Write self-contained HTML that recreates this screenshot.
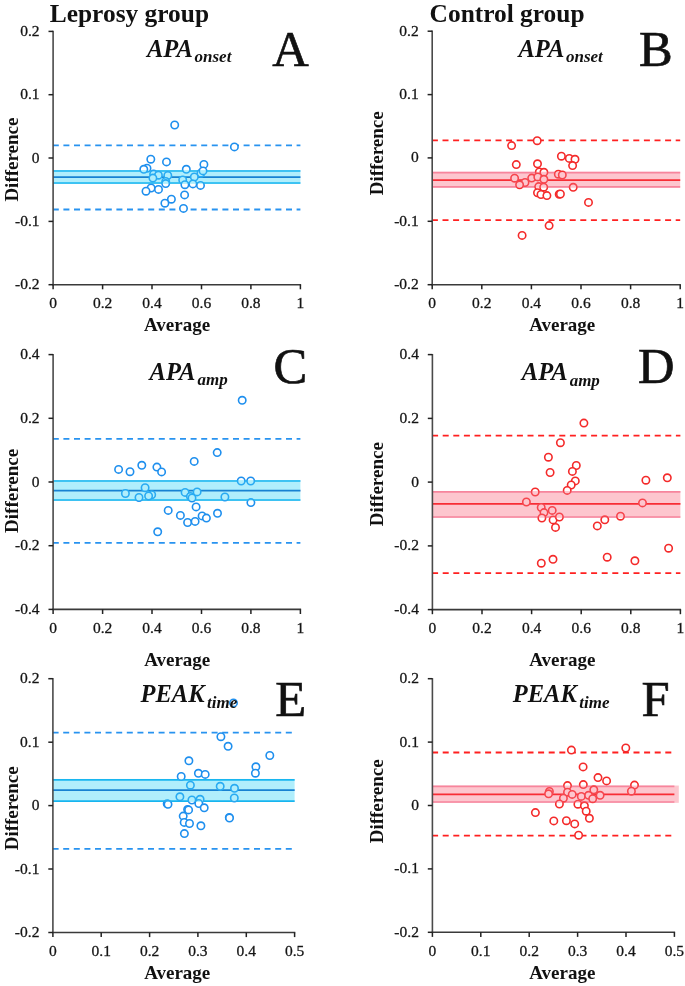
<!DOCTYPE html>
<html><head><meta charset="utf-8"><style>
html,body{margin:0;padding:0;background:#fff;}
svg{display:block;filter:blur(0.35px);}
text{font-family:"Liberation Serif",serif;fill:#111;}
.t{font-size:15.5px;fill:#151515;stroke:#151515;stroke-width:0.3px;}
.h{font-size:25.4px;font-weight:bold;}
.b{font-size:19px;font-weight:bold;}
.s{font-size:24.5px;font-weight:bold;font-style:italic;}
.ss{font-size:17px;}
.L{font-size:50.5px;stroke:#111;stroke-width:0.7px;}
</style></head><body>
<svg width="685" height="986" viewBox="0 0 685 986">
<defs></defs>
<rect width="685" height="986" fill="#fff"/>
<line x1="53.1" y1="171.0" x2="300.4" y2="171.0" stroke="rgb(2,162,235)" stroke-width="1.7"/>
<line x1="53.1" y1="183.0" x2="300.4" y2="183.0" stroke="rgb(2,162,235)" stroke-width="1.7"/>
<line x1="53.1" y1="177.1" x2="300.4" y2="177.1" stroke="rgb(0,75,185)" stroke-width="1.7"/>
<line x1="53.1" y1="145.4" x2="300.4" y2="145.4" stroke="#2893f0" stroke-width="1.8" stroke-dasharray="6.0 4.6" stroke-dashoffset="0.3"/>
<line x1="53.1" y1="209.5" x2="300.4" y2="209.5" stroke="#2893f0" stroke-width="1.8" stroke-dasharray="6.0 4.6" stroke-dashoffset="0.3"/>
<circle cx="174.7" cy="125.0" r="3.7" fill="#fff" stroke="#1e8fee" stroke-width="1.6"/>
<circle cx="234.4" cy="146.9" r="3.7" fill="#fff" stroke="#1e8fee" stroke-width="1.6"/>
<circle cx="150.8" cy="159.2" r="3.7" fill="#fff" stroke="#1e8fee" stroke-width="1.6"/>
<circle cx="166.5" cy="161.9" r="3.7" fill="#fff" stroke="#1e8fee" stroke-width="1.6"/>
<circle cx="147.0" cy="168.2" r="3.7" fill="#fff" stroke="#1e8fee" stroke-width="1.6"/>
<circle cx="143.8" cy="169.3" r="3.7" fill="#fff" stroke="#1e8fee" stroke-width="1.6"/>
<circle cx="153.6" cy="174.1" r="3.7" fill="#fff" stroke="#1e8fee" stroke-width="1.6"/>
<circle cx="158.4" cy="175.2" r="3.7" fill="#fff" stroke="#1e8fee" stroke-width="1.6"/>
<circle cx="152.9" cy="178.1" r="3.7" fill="#fff" stroke="#1e8fee" stroke-width="1.6"/>
<circle cx="167.8" cy="175.5" r="3.7" fill="#fff" stroke="#1e8fee" stroke-width="1.6"/>
<circle cx="165.7" cy="181.4" r="3.7" fill="#fff" stroke="#1e8fee" stroke-width="1.6"/>
<circle cx="165.7" cy="183.6" r="3.7" fill="#fff" stroke="#1e8fee" stroke-width="1.6"/>
<circle cx="151.1" cy="188" r="3.7" fill="#fff" stroke="#1e8fee" stroke-width="1.6"/>
<circle cx="146" cy="191.2" r="3.7" fill="#fff" stroke="#1e8fee" stroke-width="1.6"/>
<circle cx="158.5" cy="189.4" r="3.7" fill="#fff" stroke="#1e8fee" stroke-width="1.6"/>
<circle cx="203.9" cy="164.4" r="3.7" fill="#fff" stroke="#1e8fee" stroke-width="1.6"/>
<circle cx="186.3" cy="169.3" r="3.7" fill="#fff" stroke="#1e8fee" stroke-width="1.6"/>
<circle cx="200.9" cy="173.2" r="3.7" fill="#fff" stroke="#1e8fee" stroke-width="1.6"/>
<circle cx="203.0" cy="170.9" r="3.7" fill="#fff" stroke="#1e8fee" stroke-width="1.6"/>
<circle cx="194.3" cy="177" r="3.7" fill="#fff" stroke="#1e8fee" stroke-width="1.6"/>
<circle cx="182.7" cy="179.9" r="3.7" fill="#fff" stroke="#1e8fee" stroke-width="1.6"/>
<circle cx="184.9" cy="184.7" r="3.7" fill="#fff" stroke="#1e8fee" stroke-width="1.6"/>
<circle cx="192.9" cy="183.9" r="3.7" fill="#fff" stroke="#1e8fee" stroke-width="1.6"/>
<circle cx="200.5" cy="185.4" r="3.7" fill="#fff" stroke="#1e8fee" stroke-width="1.6"/>
<circle cx="184.6" cy="194.9" r="3.7" fill="#fff" stroke="#1e8fee" stroke-width="1.6"/>
<circle cx="171.4" cy="199.2" r="3.7" fill="#fff" stroke="#1e8fee" stroke-width="1.6"/>
<circle cx="164.9" cy="203.2" r="3.7" fill="#fff" stroke="#1e8fee" stroke-width="1.6"/>
<circle cx="183.5" cy="208.4" r="3.7" fill="#fff" stroke="#1e8fee" stroke-width="1.6"/>
<rect x="53.1" y="170.15" width="247.3" height="13.70" fill="rgb(57,212,247)" fill-opacity="0.4"/>
<line x1="53.1" y1="30.8" x2="53.1" y2="285.3" stroke="#4a4a4a" stroke-width="1.6"/>
<line x1="52.5" y1="284.7" x2="301.1" y2="284.7" stroke="#3a3a3a" stroke-width="1.6"/>
<line x1="48.5" y1="31.4" x2="53.1" y2="31.4" stroke="#222" stroke-width="1.5"/>
<text x="39.6" y="35.9" text-anchor="end" class="t">0.2</text>
<line x1="48.5" y1="94.7" x2="53.1" y2="94.7" stroke="#222" stroke-width="1.5"/>
<text x="39.6" y="99.2" text-anchor="end" class="t">0.1</text>
<line x1="48.5" y1="158.0" x2="53.1" y2="158.0" stroke="#222" stroke-width="1.5"/>
<text x="39.6" y="162.5" text-anchor="end" class="t">0</text>
<line x1="48.5" y1="221.4" x2="53.1" y2="221.4" stroke="#222" stroke-width="1.5"/>
<text x="39.6" y="225.9" text-anchor="end" class="t">-0.1</text>
<line x1="48.5" y1="284.7" x2="53.1" y2="284.7" stroke="#222" stroke-width="1.5"/>
<text x="39.6" y="289.2" text-anchor="end" class="t">-0.2</text>
<line x1="53.1" y1="284.7" x2="53.1" y2="289.3" stroke="#222" stroke-width="1.5"/>
<text x="53.1" y="308.4" text-anchor="middle" class="t">0</text>
<line x1="102.6" y1="284.7" x2="102.6" y2="289.3" stroke="#222" stroke-width="1.5"/>
<text x="102.6" y="308.4" text-anchor="middle" class="t">0.2</text>
<line x1="152.0" y1="284.7" x2="152.0" y2="289.3" stroke="#222" stroke-width="1.5"/>
<text x="152.0" y="308.4" text-anchor="middle" class="t">0.4</text>
<line x1="201.5" y1="284.7" x2="201.5" y2="289.3" stroke="#222" stroke-width="1.5"/>
<text x="201.5" y="308.4" text-anchor="middle" class="t">0.6</text>
<line x1="250.9" y1="284.7" x2="250.9" y2="289.3" stroke="#222" stroke-width="1.5"/>
<text x="250.9" y="308.4" text-anchor="middle" class="t">0.8</text>
<line x1="300.4" y1="284.7" x2="300.4" y2="289.3" stroke="#222" stroke-width="1.5"/>
<text x="300.4" y="308.4" text-anchor="middle" class="t">1</text>
<line x1="432.2" y1="172.6" x2="680.2" y2="172.6" stroke="rgb(245,147,172)" stroke-width="1.7"/>
<line x1="432.2" y1="186.9" x2="680.2" y2="186.9" stroke="rgb(245,147,172)" stroke-width="1.7"/>
<line x1="432.2" y1="180.1" x2="680.2" y2="180.1" stroke="rgb(247,0,0)" stroke-width="1.7"/>
<line x1="432.2" y1="140.4" x2="680.2" y2="140.4" stroke="#ff2020" stroke-width="1.8" stroke-dasharray="6.0 4.6" stroke-dashoffset="0.3"/>
<line x1="432.2" y1="220.2" x2="680.2" y2="220.2" stroke="#ff2020" stroke-width="1.8" stroke-dasharray="6.0 4.6" stroke-dashoffset="0.3"/>
<circle cx="537.2" cy="140.7" r="3.7" fill="#fff" stroke="#f42a2a" stroke-width="1.6"/>
<circle cx="511.6" cy="145.6" r="3.7" fill="#fff" stroke="#f42a2a" stroke-width="1.6"/>
<circle cx="561.4" cy="156.2" r="3.7" fill="#fff" stroke="#f42a2a" stroke-width="1.6"/>
<circle cx="569.3" cy="158.4" r="3.7" fill="#fff" stroke="#f42a2a" stroke-width="1.6"/>
<circle cx="575" cy="159.3" r="3.7" fill="#fff" stroke="#f42a2a" stroke-width="1.6"/>
<circle cx="572.6" cy="165.6" r="3.7" fill="#fff" stroke="#f42a2a" stroke-width="1.6"/>
<circle cx="516.3" cy="164.6" r="3.7" fill="#fff" stroke="#f42a2a" stroke-width="1.6"/>
<circle cx="537.5" cy="163.8" r="3.7" fill="#fff" stroke="#f42a2a" stroke-width="1.6"/>
<circle cx="539.3" cy="172" r="3.7" fill="#fff" stroke="#f42a2a" stroke-width="1.6"/>
<circle cx="543.9" cy="172.3" r="3.7" fill="#fff" stroke="#f42a2a" stroke-width="1.6"/>
<circle cx="558.3" cy="174.2" r="3.7" fill="#fff" stroke="#f42a2a" stroke-width="1.6"/>
<circle cx="562.3" cy="175" r="3.7" fill="#fff" stroke="#f42a2a" stroke-width="1.6"/>
<circle cx="514.6" cy="178.2" r="3.7" fill="#fff" stroke="#f42a2a" stroke-width="1.6"/>
<circle cx="531.7" cy="178.1" r="3.7" fill="#fff" stroke="#f42a2a" stroke-width="1.6"/>
<circle cx="537.8" cy="176.9" r="3.7" fill="#fff" stroke="#f42a2a" stroke-width="1.6"/>
<circle cx="543.9" cy="179.3" r="3.7" fill="#fff" stroke="#f42a2a" stroke-width="1.6"/>
<circle cx="525" cy="182.5" r="3.7" fill="#fff" stroke="#f42a2a" stroke-width="1.6"/>
<circle cx="519.6" cy="184.8" r="3.7" fill="#fff" stroke="#f42a2a" stroke-width="1.6"/>
<circle cx="538.7" cy="186.6" r="3.7" fill="#fff" stroke="#f42a2a" stroke-width="1.6"/>
<circle cx="543.7" cy="187.2" r="3.7" fill="#fff" stroke="#f42a2a" stroke-width="1.6"/>
<circle cx="573.2" cy="187.3" r="3.7" fill="#fff" stroke="#f42a2a" stroke-width="1.6"/>
<circle cx="537.5" cy="192.7" r="3.7" fill="#fff" stroke="#f42a2a" stroke-width="1.6"/>
<circle cx="541" cy="194.5" r="3.7" fill="#fff" stroke="#f42a2a" stroke-width="1.6"/>
<circle cx="546.9" cy="195.6" r="3.7" fill="#fff" stroke="#f42a2a" stroke-width="1.6"/>
<circle cx="559.2" cy="194.3" r="3.7" fill="#fff" stroke="#f42a2a" stroke-width="1.6"/>
<circle cx="560.4" cy="194.0" r="3.7" fill="#fff" stroke="#f42a2a" stroke-width="1.6"/>
<circle cx="588.5" cy="202.4" r="3.7" fill="#fff" stroke="#f42a2a" stroke-width="1.6"/>
<circle cx="549.1" cy="225.6" r="3.7" fill="#fff" stroke="#f42a2a" stroke-width="1.6"/>
<circle cx="522.1" cy="235.4" r="3.7" fill="#fff" stroke="#f42a2a" stroke-width="1.6"/>
<rect x="432.2" y="171.75" width="248.0" height="16.00" fill="rgb(250,112,132)" fill-opacity="0.4"/>
<line x1="432.2" y1="30.6" x2="432.2" y2="285.3" stroke="#4a4a4a" stroke-width="1.6"/>
<line x1="431.6" y1="284.7" x2="680.9" y2="284.7" stroke="#3a3a3a" stroke-width="1.6"/>
<line x1="427.6" y1="31.2" x2="432.2" y2="31.2" stroke="#222" stroke-width="1.5"/>
<text x="418.7" y="35.7" text-anchor="end" class="t">0.2</text>
<line x1="427.6" y1="94.6" x2="432.2" y2="94.6" stroke="#222" stroke-width="1.5"/>
<text x="418.7" y="99.1" text-anchor="end" class="t">0.1</text>
<line x1="427.6" y1="157.9" x2="432.2" y2="157.9" stroke="#222" stroke-width="1.5"/>
<text x="418.7" y="162.4" text-anchor="end" class="t">0</text>
<line x1="427.6" y1="221.3" x2="432.2" y2="221.3" stroke="#222" stroke-width="1.5"/>
<text x="418.7" y="225.8" text-anchor="end" class="t">-0.1</text>
<line x1="427.6" y1="284.7" x2="432.2" y2="284.7" stroke="#222" stroke-width="1.5"/>
<text x="418.7" y="289.2" text-anchor="end" class="t">-0.2</text>
<line x1="432.2" y1="284.7" x2="432.2" y2="289.3" stroke="#222" stroke-width="1.5"/>
<text x="432.2" y="308.4" text-anchor="middle" class="t">0</text>
<line x1="481.8" y1="284.7" x2="481.8" y2="289.3" stroke="#222" stroke-width="1.5"/>
<text x="481.8" y="308.4" text-anchor="middle" class="t">0.2</text>
<line x1="531.4" y1="284.7" x2="531.4" y2="289.3" stroke="#222" stroke-width="1.5"/>
<text x="531.4" y="308.4" text-anchor="middle" class="t">0.4</text>
<line x1="581.0" y1="284.7" x2="581.0" y2="289.3" stroke="#222" stroke-width="1.5"/>
<text x="581.0" y="308.4" text-anchor="middle" class="t">0.6</text>
<line x1="630.6" y1="284.7" x2="630.6" y2="289.3" stroke="#222" stroke-width="1.5"/>
<text x="630.6" y="308.4" text-anchor="middle" class="t">0.8</text>
<line x1="680.2" y1="284.7" x2="680.2" y2="289.3" stroke="#222" stroke-width="1.5"/>
<text x="680.2" y="308.4" text-anchor="middle" class="t">1</text>
<line x1="53.1" y1="481.0" x2="300.4" y2="481.0" stroke="rgb(2,162,235)" stroke-width="1.7"/>
<line x1="53.1" y1="500.0" x2="300.4" y2="500.0" stroke="rgb(2,162,235)" stroke-width="1.7"/>
<line x1="53.1" y1="490.7" x2="300.4" y2="490.7" stroke="rgb(0,75,185)" stroke-width="1.7"/>
<line x1="53.1" y1="438.9" x2="300.4" y2="438.9" stroke="#2893f0" stroke-width="1.8" stroke-dasharray="6.0 4.6" stroke-dashoffset="0.3"/>
<line x1="53.1" y1="542.8" x2="300.4" y2="542.8" stroke="#2893f0" stroke-width="1.8" stroke-dasharray="6.0 4.6" stroke-dashoffset="0.3"/>
<circle cx="242.2" cy="400.3" r="3.7" fill="#fff" stroke="#1e8fee" stroke-width="1.6"/>
<circle cx="217.2" cy="452.6" r="3.7" fill="#fff" stroke="#1e8fee" stroke-width="1.6"/>
<circle cx="194.2" cy="461.4" r="3.7" fill="#fff" stroke="#1e8fee" stroke-width="1.6"/>
<circle cx="118.6" cy="469.4" r="3.7" fill="#fff" stroke="#1e8fee" stroke-width="1.6"/>
<circle cx="130" cy="471.7" r="3.7" fill="#fff" stroke="#1e8fee" stroke-width="1.6"/>
<circle cx="141.8" cy="465.3" r="3.7" fill="#fff" stroke="#1e8fee" stroke-width="1.6"/>
<circle cx="156.9" cy="467.1" r="3.7" fill="#fff" stroke="#1e8fee" stroke-width="1.6"/>
<circle cx="161.6" cy="471.9" r="3.7" fill="#fff" stroke="#1e8fee" stroke-width="1.6"/>
<circle cx="145.1" cy="487.7" r="3.7" fill="#fff" stroke="#1e8fee" stroke-width="1.6"/>
<circle cx="125.4" cy="493.5" r="3.7" fill="#fff" stroke="#1e8fee" stroke-width="1.6"/>
<circle cx="139" cy="497.5" r="3.7" fill="#fff" stroke="#1e8fee" stroke-width="1.6"/>
<circle cx="151.7" cy="494.7" r="3.7" fill="#fff" stroke="#1e8fee" stroke-width="1.6"/>
<circle cx="148.6" cy="496" r="3.7" fill="#fff" stroke="#1e8fee" stroke-width="1.6"/>
<circle cx="185.1" cy="492.4" r="3.7" fill="#fff" stroke="#1e8fee" stroke-width="1.6"/>
<circle cx="190.4" cy="496.5" r="3.7" fill="#fff" stroke="#1e8fee" stroke-width="1.6"/>
<circle cx="197.1" cy="491.9" r="3.7" fill="#fff" stroke="#1e8fee" stroke-width="1.6"/>
<circle cx="192" cy="498" r="3.7" fill="#fff" stroke="#1e8fee" stroke-width="1.6"/>
<circle cx="224.9" cy="497" r="3.7" fill="#fff" stroke="#1e8fee" stroke-width="1.6"/>
<circle cx="241.2" cy="481" r="3.7" fill="#fff" stroke="#1e8fee" stroke-width="1.6"/>
<circle cx="250.7" cy="481" r="3.7" fill="#fff" stroke="#1e8fee" stroke-width="1.6"/>
<circle cx="250.9" cy="502.6" r="3.7" fill="#fff" stroke="#1e8fee" stroke-width="1.6"/>
<circle cx="196.1" cy="506.9" r="3.7" fill="#fff" stroke="#1e8fee" stroke-width="1.6"/>
<circle cx="168.2" cy="510.4" r="3.7" fill="#fff" stroke="#1e8fee" stroke-width="1.6"/>
<circle cx="180.4" cy="515.4" r="3.7" fill="#fff" stroke="#1e8fee" stroke-width="1.6"/>
<circle cx="187.6" cy="522.5" r="3.7" fill="#fff" stroke="#1e8fee" stroke-width="1.6"/>
<circle cx="195.1" cy="521.4" r="3.7" fill="#fff" stroke="#1e8fee" stroke-width="1.6"/>
<circle cx="202.1" cy="515.9" r="3.7" fill="#fff" stroke="#1e8fee" stroke-width="1.6"/>
<circle cx="206.4" cy="518.1" r="3.7" fill="#fff" stroke="#1e8fee" stroke-width="1.6"/>
<circle cx="217.5" cy="513.3" r="3.7" fill="#fff" stroke="#1e8fee" stroke-width="1.6"/>
<circle cx="157.7" cy="531.8" r="3.7" fill="#fff" stroke="#1e8fee" stroke-width="1.6"/>
<rect x="53.1" y="480.15" width="247.3" height="20.70" fill="rgb(57,212,247)" fill-opacity="0.4"/>
<line x1="53.1" y1="354.0" x2="53.1" y2="610.0" stroke="#4a4a4a" stroke-width="1.6"/>
<line x1="52.5" y1="609.4" x2="301.1" y2="609.4" stroke="#3a3a3a" stroke-width="1.6"/>
<line x1="48.5" y1="354.6" x2="53.1" y2="354.6" stroke="#222" stroke-width="1.5"/>
<text x="39.6" y="359.1" text-anchor="end" class="t">0.4</text>
<line x1="48.5" y1="418.3" x2="53.1" y2="418.3" stroke="#222" stroke-width="1.5"/>
<text x="39.6" y="422.8" text-anchor="end" class="t">0.2</text>
<line x1="48.5" y1="482.0" x2="53.1" y2="482.0" stroke="#222" stroke-width="1.5"/>
<text x="39.6" y="486.5" text-anchor="end" class="t">0</text>
<line x1="48.5" y1="545.7" x2="53.1" y2="545.7" stroke="#222" stroke-width="1.5"/>
<text x="39.6" y="550.2" text-anchor="end" class="t">-0.2</text>
<line x1="48.5" y1="609.4" x2="53.1" y2="609.4" stroke="#222" stroke-width="1.5"/>
<text x="39.6" y="613.9" text-anchor="end" class="t">-0.4</text>
<line x1="53.1" y1="609.4" x2="53.1" y2="614.0" stroke="#222" stroke-width="1.5"/>
<text x="53.1" y="633.1" text-anchor="middle" class="t">0</text>
<line x1="102.6" y1="609.4" x2="102.6" y2="614.0" stroke="#222" stroke-width="1.5"/>
<text x="102.6" y="633.1" text-anchor="middle" class="t">0.2</text>
<line x1="152.0" y1="609.4" x2="152.0" y2="614.0" stroke="#222" stroke-width="1.5"/>
<text x="152.0" y="633.1" text-anchor="middle" class="t">0.4</text>
<line x1="201.5" y1="609.4" x2="201.5" y2="614.0" stroke="#222" stroke-width="1.5"/>
<text x="201.5" y="633.1" text-anchor="middle" class="t">0.6</text>
<line x1="250.9" y1="609.4" x2="250.9" y2="614.0" stroke="#222" stroke-width="1.5"/>
<text x="250.9" y="633.1" text-anchor="middle" class="t">0.8</text>
<line x1="300.4" y1="609.4" x2="300.4" y2="614.0" stroke="#222" stroke-width="1.5"/>
<text x="300.4" y="633.1" text-anchor="middle" class="t">1</text>
<line x1="432.4" y1="491.9" x2="680.4" y2="491.9" stroke="rgb(245,147,172)" stroke-width="1.7"/>
<line x1="432.4" y1="517.0" x2="680.4" y2="517.0" stroke="rgb(245,147,172)" stroke-width="1.7"/>
<line x1="432.4" y1="503.8" x2="680.4" y2="503.8" stroke="rgb(247,0,0)" stroke-width="1.7"/>
<line x1="432.4" y1="435.6" x2="680.4" y2="435.6" stroke="#ff2020" stroke-width="1.8" stroke-dasharray="6.0 4.6" stroke-dashoffset="0.3"/>
<line x1="432.4" y1="573.1" x2="680.4" y2="573.1" stroke="#ff2020" stroke-width="1.8" stroke-dasharray="6.0 4.6" stroke-dashoffset="0.3"/>
<circle cx="583.9" cy="423.1" r="3.7" fill="#fff" stroke="#f42a2a" stroke-width="1.6"/>
<circle cx="560.4" cy="442.7" r="3.7" fill="#fff" stroke="#f42a2a" stroke-width="1.6"/>
<circle cx="548.4" cy="457.2" r="3.7" fill="#fff" stroke="#f42a2a" stroke-width="1.6"/>
<circle cx="550.1" cy="472.5" r="3.7" fill="#fff" stroke="#f42a2a" stroke-width="1.6"/>
<circle cx="576.3" cy="465.5" r="3.7" fill="#fff" stroke="#f42a2a" stroke-width="1.6"/>
<circle cx="572.4" cy="471.4" r="3.7" fill="#fff" stroke="#f42a2a" stroke-width="1.6"/>
<circle cx="575.3" cy="480.9" r="3.7" fill="#fff" stroke="#f42a2a" stroke-width="1.6"/>
<circle cx="571.2" cy="485" r="3.7" fill="#fff" stroke="#f42a2a" stroke-width="1.6"/>
<circle cx="567.2" cy="490.4" r="3.7" fill="#fff" stroke="#f42a2a" stroke-width="1.6"/>
<circle cx="535.2" cy="492" r="3.7" fill="#fff" stroke="#f42a2a" stroke-width="1.6"/>
<circle cx="526.4" cy="502" r="3.7" fill="#fff" stroke="#f42a2a" stroke-width="1.6"/>
<circle cx="541.2" cy="507.5" r="3.7" fill="#fff" stroke="#f42a2a" stroke-width="1.6"/>
<circle cx="544" cy="512.6" r="3.7" fill="#fff" stroke="#f42a2a" stroke-width="1.6"/>
<circle cx="541.9" cy="518" r="3.7" fill="#fff" stroke="#f42a2a" stroke-width="1.6"/>
<circle cx="552.2" cy="510.4" r="3.7" fill="#fff" stroke="#f42a2a" stroke-width="1.6"/>
<circle cx="553.1" cy="519.9" r="3.7" fill="#fff" stroke="#f42a2a" stroke-width="1.6"/>
<circle cx="555.5" cy="527.4" r="3.7" fill="#fff" stroke="#f42a2a" stroke-width="1.6"/>
<circle cx="559.4" cy="517" r="3.7" fill="#fff" stroke="#f42a2a" stroke-width="1.6"/>
<circle cx="604.8" cy="519.8" r="3.7" fill="#fff" stroke="#f42a2a" stroke-width="1.6"/>
<circle cx="597.3" cy="525.9" r="3.7" fill="#fff" stroke="#f42a2a" stroke-width="1.6"/>
<circle cx="620.5" cy="516.2" r="3.7" fill="#fff" stroke="#f42a2a" stroke-width="1.6"/>
<circle cx="645.9" cy="480.2" r="3.7" fill="#fff" stroke="#f42a2a" stroke-width="1.6"/>
<circle cx="667.3" cy="477.8" r="3.7" fill="#fff" stroke="#f42a2a" stroke-width="1.6"/>
<circle cx="642.5" cy="502.9" r="3.7" fill="#fff" stroke="#f42a2a" stroke-width="1.6"/>
<circle cx="607.2" cy="557.2" r="3.7" fill="#fff" stroke="#f42a2a" stroke-width="1.6"/>
<circle cx="634.9" cy="560.8" r="3.7" fill="#fff" stroke="#f42a2a" stroke-width="1.6"/>
<circle cx="668.6" cy="548.2" r="3.7" fill="#fff" stroke="#f42a2a" stroke-width="1.6"/>
<circle cx="541.3" cy="563.2" r="3.7" fill="#fff" stroke="#f42a2a" stroke-width="1.6"/>
<circle cx="553" cy="559.3" r="3.7" fill="#fff" stroke="#f42a2a" stroke-width="1.6"/>
<rect x="432.4" y="491.05" width="248.0" height="26.80" fill="rgb(250,112,132)" fill-opacity="0.4"/>
<line x1="432.4" y1="354.0" x2="432.4" y2="610.2" stroke="#4a4a4a" stroke-width="1.6"/>
<line x1="431.8" y1="609.6" x2="681.1" y2="609.6" stroke="#3a3a3a" stroke-width="1.6"/>
<line x1="427.8" y1="354.6" x2="432.4" y2="354.6" stroke="#222" stroke-width="1.5"/>
<text x="418.9" y="359.1" text-anchor="end" class="t">0.4</text>
<line x1="427.8" y1="418.4" x2="432.4" y2="418.4" stroke="#222" stroke-width="1.5"/>
<text x="418.9" y="422.9" text-anchor="end" class="t">0.2</text>
<line x1="427.8" y1="482.1" x2="432.4" y2="482.1" stroke="#222" stroke-width="1.5"/>
<text x="418.9" y="486.6" text-anchor="end" class="t">0</text>
<line x1="427.8" y1="545.9" x2="432.4" y2="545.9" stroke="#222" stroke-width="1.5"/>
<text x="418.9" y="550.4" text-anchor="end" class="t">-0.2</text>
<line x1="427.8" y1="609.6" x2="432.4" y2="609.6" stroke="#222" stroke-width="1.5"/>
<text x="418.9" y="614.1" text-anchor="end" class="t">-0.4</text>
<line x1="432.4" y1="609.6" x2="432.4" y2="614.2" stroke="#222" stroke-width="1.5"/>
<text x="432.4" y="633.3" text-anchor="middle" class="t">0</text>
<line x1="482.0" y1="609.6" x2="482.0" y2="614.2" stroke="#222" stroke-width="1.5"/>
<text x="482.0" y="633.3" text-anchor="middle" class="t">0.2</text>
<line x1="531.6" y1="609.6" x2="531.6" y2="614.2" stroke="#222" stroke-width="1.5"/>
<text x="531.6" y="633.3" text-anchor="middle" class="t">0.4</text>
<line x1="581.2" y1="609.6" x2="581.2" y2="614.2" stroke="#222" stroke-width="1.5"/>
<text x="581.2" y="633.3" text-anchor="middle" class="t">0.6</text>
<line x1="630.8" y1="609.6" x2="630.8" y2="614.2" stroke="#222" stroke-width="1.5"/>
<text x="630.8" y="633.3" text-anchor="middle" class="t">0.8</text>
<line x1="680.4" y1="609.6" x2="680.4" y2="614.2" stroke="#222" stroke-width="1.5"/>
<text x="680.4" y="633.3" text-anchor="middle" class="t">1</text>
<line x1="52.9" y1="779.8" x2="294.6" y2="779.8" stroke="rgb(2,162,235)" stroke-width="1.7"/>
<line x1="52.9" y1="801.1" x2="294.6" y2="801.1" stroke="rgb(2,162,235)" stroke-width="1.7"/>
<line x1="52.9" y1="790.2" x2="294.6" y2="790.2" stroke="rgb(0,75,185)" stroke-width="1.7"/>
<line x1="52.9" y1="732.7" x2="294.6" y2="732.7" stroke="#2893f0" stroke-width="1.8" stroke-dasharray="6.0 4.6" stroke-dashoffset="0.3"/>
<line x1="52.9" y1="848.9" x2="294.6" y2="848.9" stroke="#2893f0" stroke-width="1.8" stroke-dasharray="6.0 4.6" stroke-dashoffset="0.3"/>
<circle cx="233.5" cy="702.9" r="3.7" fill="#fff" stroke="#1e8fee" stroke-width="1.6"/>
<circle cx="220.9" cy="736.7" r="3.7" fill="#fff" stroke="#1e8fee" stroke-width="1.6"/>
<circle cx="228.1" cy="746.3" r="3.7" fill="#fff" stroke="#1e8fee" stroke-width="1.6"/>
<circle cx="269.8" cy="755.5" r="3.7" fill="#fff" stroke="#1e8fee" stroke-width="1.6"/>
<circle cx="188.9" cy="760.8" r="3.7" fill="#fff" stroke="#1e8fee" stroke-width="1.6"/>
<circle cx="255.9" cy="766.8" r="3.7" fill="#fff" stroke="#1e8fee" stroke-width="1.6"/>
<circle cx="255.4" cy="773.2" r="3.7" fill="#fff" stroke="#1e8fee" stroke-width="1.6"/>
<circle cx="181.2" cy="776.5" r="3.7" fill="#fff" stroke="#1e8fee" stroke-width="1.6"/>
<circle cx="198.4" cy="773.3" r="3.7" fill="#fff" stroke="#1e8fee" stroke-width="1.6"/>
<circle cx="205.2" cy="774.4" r="3.7" fill="#fff" stroke="#1e8fee" stroke-width="1.6"/>
<circle cx="190.4" cy="785.2" r="3.7" fill="#fff" stroke="#1e8fee" stroke-width="1.6"/>
<circle cx="220.2" cy="786.3" r="3.7" fill="#fff" stroke="#1e8fee" stroke-width="1.6"/>
<circle cx="234.5" cy="788.3" r="3.7" fill="#fff" stroke="#1e8fee" stroke-width="1.6"/>
<circle cx="179.9" cy="796.8" r="3.7" fill="#fff" stroke="#1e8fee" stroke-width="1.6"/>
<circle cx="191.9" cy="800" r="3.7" fill="#fff" stroke="#1e8fee" stroke-width="1.6"/>
<circle cx="200.1" cy="799.3" r="3.7" fill="#fff" stroke="#1e8fee" stroke-width="1.6"/>
<circle cx="198.8" cy="803.5" r="3.7" fill="#fff" stroke="#1e8fee" stroke-width="1.6"/>
<circle cx="204.2" cy="807.8" r="3.7" fill="#fff" stroke="#1e8fee" stroke-width="1.6"/>
<circle cx="234.3" cy="798" r="3.7" fill="#fff" stroke="#1e8fee" stroke-width="1.6"/>
<circle cx="167.2" cy="803.8" r="3.7" fill="#fff" stroke="#1e8fee" stroke-width="1.6"/>
<circle cx="168" cy="804.3" r="3.7" fill="#fff" stroke="#1e8fee" stroke-width="1.6"/>
<circle cx="187.6" cy="809.4" r="3.7" fill="#fff" stroke="#1e8fee" stroke-width="1.6"/>
<circle cx="188.6" cy="809.9" r="3.7" fill="#fff" stroke="#1e8fee" stroke-width="1.6"/>
<circle cx="183.2" cy="816.1" r="3.7" fill="#fff" stroke="#1e8fee" stroke-width="1.6"/>
<circle cx="184.2" cy="822.4" r="3.7" fill="#fff" stroke="#1e8fee" stroke-width="1.6"/>
<circle cx="189.5" cy="823.5" r="3.7" fill="#fff" stroke="#1e8fee" stroke-width="1.6"/>
<circle cx="200.9" cy="825.8" r="3.7" fill="#fff" stroke="#1e8fee" stroke-width="1.6"/>
<circle cx="184.4" cy="833.6" r="3.7" fill="#fff" stroke="#1e8fee" stroke-width="1.6"/>
<circle cx="229.3" cy="817.4" r="3.7" fill="#fff" stroke="#1e8fee" stroke-width="1.6"/>
<circle cx="229.5" cy="818" r="3.7" fill="#fff" stroke="#1e8fee" stroke-width="1.6"/>
<rect x="52.9" y="778.95" width="241.7" height="23.00" fill="rgb(57,212,247)" fill-opacity="0.4"/>
<line x1="52.9" y1="678.1" x2="52.9" y2="933.1" stroke="#4a4a4a" stroke-width="1.6"/>
<line x1="52.3" y1="932.5" x2="295.3" y2="932.5" stroke="#3a3a3a" stroke-width="1.6"/>
<line x1="48.3" y1="678.7" x2="52.9" y2="678.7" stroke="#222" stroke-width="1.5"/>
<text x="39.4" y="683.2" text-anchor="end" class="t">0.2</text>
<line x1="48.3" y1="742.2" x2="52.9" y2="742.2" stroke="#222" stroke-width="1.5"/>
<text x="39.4" y="746.7" text-anchor="end" class="t">0.1</text>
<line x1="48.3" y1="805.6" x2="52.9" y2="805.6" stroke="#222" stroke-width="1.5"/>
<text x="39.4" y="810.1" text-anchor="end" class="t">0</text>
<line x1="48.3" y1="869.0" x2="52.9" y2="869.0" stroke="#222" stroke-width="1.5"/>
<text x="39.4" y="873.5" text-anchor="end" class="t">-0.1</text>
<line x1="48.3" y1="932.5" x2="52.9" y2="932.5" stroke="#222" stroke-width="1.5"/>
<text x="39.4" y="937.0" text-anchor="end" class="t">-0.2</text>
<line x1="52.9" y1="932.5" x2="52.9" y2="937.1" stroke="#222" stroke-width="1.5"/>
<text x="52.9" y="956.2" text-anchor="middle" class="t">0</text>
<line x1="101.2" y1="932.5" x2="101.2" y2="937.1" stroke="#222" stroke-width="1.5"/>
<text x="101.2" y="956.2" text-anchor="middle" class="t">0.1</text>
<line x1="149.6" y1="932.5" x2="149.6" y2="937.1" stroke="#222" stroke-width="1.5"/>
<text x="149.6" y="956.2" text-anchor="middle" class="t">0.2</text>
<line x1="197.9" y1="932.5" x2="197.9" y2="937.1" stroke="#222" stroke-width="1.5"/>
<text x="197.9" y="956.2" text-anchor="middle" class="t">0.3</text>
<line x1="246.3" y1="932.5" x2="246.3" y2="937.1" stroke="#222" stroke-width="1.5"/>
<text x="246.3" y="956.2" text-anchor="middle" class="t">0.4</text>
<line x1="294.6" y1="932.5" x2="294.6" y2="937.1" stroke="#222" stroke-width="1.5"/>
<text x="294.6" y="956.2" text-anchor="middle" class="t">0.5</text>
<line x1="432.4" y1="786.4" x2="674.4" y2="786.4" stroke="rgb(245,147,172)" stroke-width="1.7"/>
<line x1="432.4" y1="802.0" x2="674.4" y2="802.0" stroke="rgb(245,147,172)" stroke-width="1.7"/>
<line x1="432.4" y1="794.4" x2="674.4" y2="794.4" stroke="rgb(247,0,0)" stroke-width="1.7"/>
<line x1="432.4" y1="752.5" x2="674.4" y2="752.5" stroke="#ff2020" stroke-width="1.8" stroke-dasharray="6.0 4.6" stroke-dashoffset="0.3"/>
<line x1="432.4" y1="835.7" x2="674.4" y2="835.7" stroke="#ff2020" stroke-width="1.8" stroke-dasharray="6.0 4.6" stroke-dashoffset="0.3"/>
<circle cx="571.4" cy="750.1" r="3.7" fill="#fff" stroke="#f42a2a" stroke-width="1.6"/>
<circle cx="625.8" cy="748" r="3.7" fill="#fff" stroke="#f42a2a" stroke-width="1.6"/>
<circle cx="583.1" cy="766.9" r="3.7" fill="#fff" stroke="#f42a2a" stroke-width="1.6"/>
<circle cx="598" cy="777.6" r="3.7" fill="#fff" stroke="#f42a2a" stroke-width="1.6"/>
<circle cx="606.6" cy="780.9" r="3.7" fill="#fff" stroke="#f42a2a" stroke-width="1.6"/>
<circle cx="567.5" cy="785.6" r="3.7" fill="#fff" stroke="#f42a2a" stroke-width="1.6"/>
<circle cx="583.3" cy="784.6" r="3.7" fill="#fff" stroke="#f42a2a" stroke-width="1.6"/>
<circle cx="634.5" cy="785.1" r="3.7" fill="#fff" stroke="#f42a2a" stroke-width="1.6"/>
<circle cx="631.4" cy="791.2" r="3.7" fill="#fff" stroke="#f42a2a" stroke-width="1.6"/>
<circle cx="549.4" cy="791.4" r="3.7" fill="#fff" stroke="#f42a2a" stroke-width="1.6"/>
<circle cx="548.6" cy="793.8" r="3.7" fill="#fff" stroke="#f42a2a" stroke-width="1.6"/>
<circle cx="567.5" cy="792.2" r="3.7" fill="#fff" stroke="#f42a2a" stroke-width="1.6"/>
<circle cx="572.2" cy="794.4" r="3.7" fill="#fff" stroke="#f42a2a" stroke-width="1.6"/>
<circle cx="563.4" cy="798.2" r="3.7" fill="#fff" stroke="#f42a2a" stroke-width="1.6"/>
<circle cx="581.3" cy="796.4" r="3.7" fill="#fff" stroke="#f42a2a" stroke-width="1.6"/>
<circle cx="588.6" cy="795.3" r="3.7" fill="#fff" stroke="#f42a2a" stroke-width="1.6"/>
<circle cx="593.8" cy="789.8" r="3.7" fill="#fff" stroke="#f42a2a" stroke-width="1.6"/>
<circle cx="592.7" cy="798.7" r="3.7" fill="#fff" stroke="#f42a2a" stroke-width="1.6"/>
<circle cx="600.1" cy="795.3" r="3.7" fill="#fff" stroke="#f42a2a" stroke-width="1.6"/>
<circle cx="559.4" cy="804" r="3.7" fill="#fff" stroke="#f42a2a" stroke-width="1.6"/>
<circle cx="577.9" cy="804.2" r="3.7" fill="#fff" stroke="#f42a2a" stroke-width="1.6"/>
<circle cx="584.4" cy="805.8" r="3.7" fill="#fff" stroke="#f42a2a" stroke-width="1.6"/>
<circle cx="586.2" cy="811.2" r="3.7" fill="#fff" stroke="#f42a2a" stroke-width="1.6"/>
<circle cx="589.4" cy="818.3" r="3.7" fill="#fff" stroke="#f42a2a" stroke-width="1.6"/>
<circle cx="553.8" cy="820.9" r="3.7" fill="#fff" stroke="#f42a2a" stroke-width="1.6"/>
<circle cx="566.4" cy="820.7" r="3.7" fill="#fff" stroke="#f42a2a" stroke-width="1.6"/>
<circle cx="574.7" cy="823.9" r="3.7" fill="#fff" stroke="#f42a2a" stroke-width="1.6"/>
<circle cx="578.6" cy="835.2" r="3.7" fill="#fff" stroke="#f42a2a" stroke-width="1.6"/>
<circle cx="535.4" cy="812.6" r="3.7" fill="#fff" stroke="#f42a2a" stroke-width="1.6"/>
<rect x="432.4" y="785.55" width="246.4" height="17.30" fill="rgb(250,112,132)" fill-opacity="0.4"/>
<line x1="432.4" y1="678.1" x2="432.4" y2="932.9" stroke="#4a4a4a" stroke-width="1.6"/>
<line x1="431.8" y1="932.3" x2="675.1" y2="932.3" stroke="#3a3a3a" stroke-width="1.6"/>
<line x1="427.8" y1="678.7" x2="432.4" y2="678.7" stroke="#222" stroke-width="1.5"/>
<text x="418.9" y="683.2" text-anchor="end" class="t">0.2</text>
<line x1="427.8" y1="742.1" x2="432.4" y2="742.1" stroke="#222" stroke-width="1.5"/>
<text x="418.9" y="746.6" text-anchor="end" class="t">0.1</text>
<line x1="427.8" y1="805.5" x2="432.4" y2="805.5" stroke="#222" stroke-width="1.5"/>
<text x="418.9" y="810.0" text-anchor="end" class="t">0</text>
<line x1="427.8" y1="868.9" x2="432.4" y2="868.9" stroke="#222" stroke-width="1.5"/>
<text x="418.9" y="873.4" text-anchor="end" class="t">-0.1</text>
<line x1="427.8" y1="932.3" x2="432.4" y2="932.3" stroke="#222" stroke-width="1.5"/>
<text x="418.9" y="936.8" text-anchor="end" class="t">-0.2</text>
<line x1="432.4" y1="932.3" x2="432.4" y2="936.9" stroke="#222" stroke-width="1.5"/>
<text x="432.4" y="956.0" text-anchor="middle" class="t">0</text>
<line x1="480.8" y1="932.3" x2="480.8" y2="936.9" stroke="#222" stroke-width="1.5"/>
<text x="480.8" y="956.0" text-anchor="middle" class="t">0.1</text>
<line x1="529.2" y1="932.3" x2="529.2" y2="936.9" stroke="#222" stroke-width="1.5"/>
<text x="529.2" y="956.0" text-anchor="middle" class="t">0.2</text>
<line x1="577.6" y1="932.3" x2="577.6" y2="936.9" stroke="#222" stroke-width="1.5"/>
<text x="577.6" y="956.0" text-anchor="middle" class="t">0.3</text>
<line x1="626.0" y1="932.3" x2="626.0" y2="936.9" stroke="#222" stroke-width="1.5"/>
<text x="626.0" y="956.0" text-anchor="middle" class="t">0.4</text>
<line x1="674.4" y1="932.3" x2="674.4" y2="936.9" stroke="#222" stroke-width="1.5"/>
<text x="674.4" y="956.0" text-anchor="middle" class="t">0.5</text>
<text x="49.8" y="22" class="h">Leprosy group</text>
<text x="429.6" y="21.6" class="h">Control group</text>
<text x="144.0" y="331.3" class="b">Average</text>
<text x="529.2" y="331.3" class="b">Average</text>
<text x="144.2" y="665.8" class="b">Average</text>
<text x="529.3" y="665.8" class="b">Average</text>
<text x="144.2" y="978.6" class="b">Average</text>
<text x="529.3" y="978.6" class="b">Average</text>
<text transform="translate(18.2,159.6) rotate(-90)" text-anchor="middle" class="b">Difference</text>
<text transform="translate(383.2,153.3) rotate(-90)" text-anchor="middle" class="b">Difference</text>
<text transform="translate(18.3,490.9) rotate(-90)" text-anchor="middle" class="b">Difference</text>
<text transform="translate(383.4,484.2) rotate(-90)" text-anchor="middle" class="b">Difference</text>
<text transform="translate(18.3,808.3) rotate(-90)" text-anchor="middle" class="b">Difference</text>
<text transform="translate(383.4,801.3) rotate(-90)" text-anchor="middle" class="b">Difference</text>
<text x="147" y="56.8" class="s">APA<tspan class="ss" dx="1.7" dy="5.5">onset</tspan></text>
<text x="518.4" y="56.8" class="s">APA<tspan class="ss" dx="1.7" dy="5.5">onset</tspan></text>
<text x="149.6" y="379.9" class="s">APA<tspan class="ss" dx="2.0" dy="5.5">amp</tspan></text>
<text x="521.8" y="380.2" class="s">APA<tspan class="ss" dx="2.0" dy="5.5">amp</tspan></text>
<text x="140.5" y="702.1" class="s">PEAK<tspan class="ss" dx="2.5" dy="5.5">time</tspan></text>
<text x="512.8" y="702.1" class="s">PEAK<tspan class="ss" dx="2.5" dy="5.5">time</tspan></text>
<text x="272.3" y="65.5" class="L">A</text>
<text x="639.1" y="65.5" class="L">B</text>
<text x="273.6" y="382.7" class="L">C</text>
<text x="638.0" y="382.7" class="L">D</text>
<text x="275.3" y="715.6" class="L">E</text>
<text x="641.6" y="715.8" class="L">F</text>
</svg>
</body></html>
